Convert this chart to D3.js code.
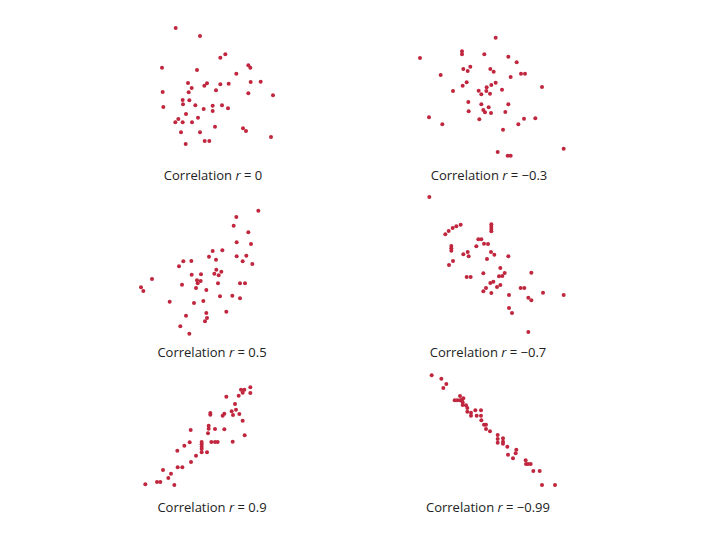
<!DOCTYPE html>
<html>
<head>
<meta charset="utf-8">
<script src="https://cdn.jsdelivr.net/npm/d3@7"></script>
<style>
  body { margin: 0; background: #fff; }
</style>
</head>
<body>
<div id="chart"></div>
<script>
// sample points for each panel, x and y in arbitrary units (y up)
const pointsR0 = [[107,366],[180,342],[241,277],[256,287],[66,247],[171,240],[325,254],[331,247],[289,229],[144,201],[201,200],[193,193],[241,197],[266,199],[332,204],[362,205],[155,186],[68,174],[146,173],[228,179],[325,170],[399,164],[128,150],[148,149],[129,137],[166,134],[70,129],[191,123],[218,133],[246,134],[264,125],[218,117],[138,108],[174,97],[115,93],[106,83],[128,83],[156,83],[225,70],[309,65],[318,57],[123,53],[180,53],[194,27],[208,27],[137,18],[393,39]];
const pointsRm03 = [[257,382],[156,341],[156,332],[223,332],[30,321],[295,325],[320,308],[160,288],[181,295],[173,282],[241,288],[251,280],[92,270],[302,264],[333,274],[345,274],[170,248],[158,238],[257,247],[244,240],[230,233],[229,222],[206,223],[214,212],[240,214],[276,226],[129,222],[396,234],[175,189],[214,182],[295,182],[236,173],[220,165],[225,158],[176,161],[243,156],[286,159],[57,143],[208,137],[342,139],[376,140],[97,122],[325,122],[279,106],[461,49],[263,39],[293,28],[302,28]];
const pointsR05 = [[385,403],[319,384],[311,358],[355,338],[320,308],[363,303],[248,282],[277,284],[237,265],[320,266],[349,268],[160,251],[184,252],[258,256],[338,251],[147,236],[367,243],[259,226],[274,220],[253,214],[266,209],[185,211],[213,212],[66,198],[201,194],[212,192],[203,185],[156,181],[198,171],[264,185],[330,185],[345,185],[33,173],[40,162],[229,165],[270,146],[307,148],[330,140],[119,130],[220,132],[192,126],[289,100],[229,96],[168,88],[231,81],[225,71],[151,56],[178,34]];
const pointsRm07 = [[43,429],[91,317],[101,327],[113,336],[124,341],[137,346],[229,347],[229,340],[229,333],[229,326],[190,302],[199,302],[184,281],[207,289],[219,288],[109,282],[109,275],[109,268],[145,257],[158,264],[161,251],[228,264],[238,256],[280,251],[216,243],[114,237],[102,225],[256,216],[349,202],[205,200],[269,201],[262,192],[252,191],[155,189],[167,189],[235,175],[226,171],[256,165],[246,159],[213,156],[205,146],[229,141],[282,135],[317,156],[328,156],[384,142],[446,135],[340,127],[349,119],[282,96],[291,81],[340,24]];
const pointsR09 = [[318,316],[328,316],[346,323],[323,307],[346,306],[311,298],[274,295],[300,273],[290,251],[303,256],[294,240],[313,243],[226,246],[226,241],[268,244],[263,238],[323,223],[221,208],[221,199],[240,198],[268,197],[167,195],[219,185],[329,179],[164,158],[148,148],[200,159],[200,152],[200,145],[200,138],[229,159],[240,159],[248,159],[293,160],[127,133],[200,128],[216,128],[183,118],[168,99],[128,83],[142,83],[84,75],[108,64],[100,51],[66,39],[76,39],[31,32],[118,30]];
const pointsRm099 = [[35,344],[64,334],[79,318],[70,306],[120,282],[104,269],[112,269],[120,269],[126,271],[128,263],[128,255],[130,275],[138,254],[142,246],[142,235],[153,232],[153,223],[166,239],[183,239],[170,223],[183,223],[184,209],[192,196],[198,196],[198,183],[210,176],[233,165],[249,155],[233,153],[233,142],[249,145],[249,139],[262,130],[289,121],[287,110],[264,106],[279,95],[317,89],[318,78],[324,78],[332,78],[340,57],[359,57],[366,15],[405,15]];

const rLabels = ["0", "\u22120.3", "0.5", "\u22120.7", "0.9", "\u22120.99"];
const panelPoints = [pointsR0, pointsRm03, pointsR05, pointsRm07, pointsR09, pointsRm099];

// panel boxes on the page, and where each caption sits
const boxes = [
    { x: 140, y: 20,  w: 150, h: 130, lx: 213, ly: 180 },
    { x: 410, y: 30,  w: 165, h: 135, lx: 489, ly: 180 },
    { x: 130, y: 200, w: 140, h: 145, lx: 212, ly: 357 },
    { x: 415, y: 185, w: 160, h: 155, lx: 488, ly: 357 },
    { x: 135, y: 375, w: 135, h: 120, lx: 212, ly: 512 },
    { x: 420, y: 365, w: 145, h: 125, lx: 488, ly: 512 }
];

const dotColor = "#c0273f";

const svg = d3.select("#chart").append("svg")
    .attr("width", 720)
    .attr("height", 540);

panelPoints.forEach((pts, i) => {
    const b = boxes[i];
    const x = d3.scaleLinear().domain([0, b.w * 3]).range([b.x, b.x + b.w]);
    const y = d3.scaleLinear().domain([0, b.h * 3]).range([b.y + b.h, b.y]);

    const g = svg.append("g");

    g.selectAll("circle")
        .data(pts)
        .enter()
        .append("circle")
        .attr("cx", d => x(d[0]))
        .attr("cy", d => y(d[1]))
        .attr("r", 2)
        .attr("fill", dotColor);

    const label = g.append("text")
        .attr("x", b.lx)
        .attr("y", b.ly)
        .attr("text-anchor", "middle")
        .style("font-family", "'Open Sans', sans-serif")
        .style("font-size", "13px")
        .attr("fill", "#222");

    label.append("tspan").text("Correlation ");
    label.append("tspan").style("font-style", "italic").text("r");
    label.append("tspan").text(" = " + rLabels[i]);
});
</script>
</body>
</html>
